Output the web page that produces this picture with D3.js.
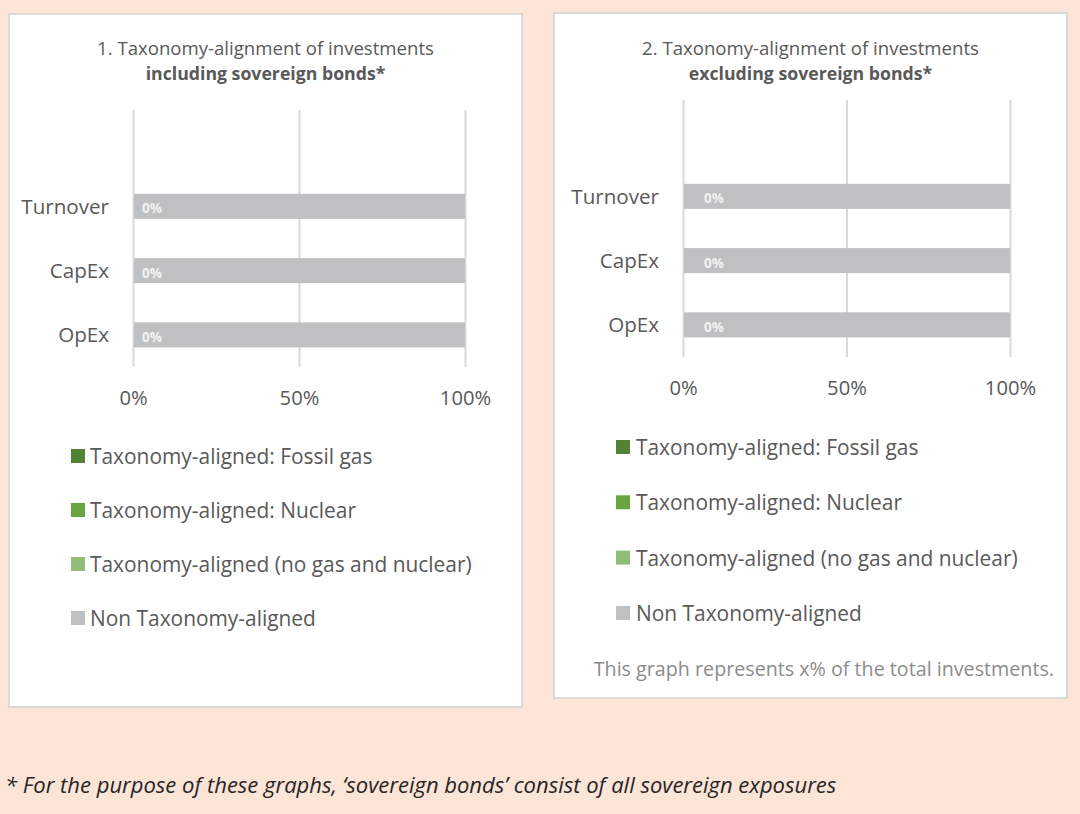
<!DOCTYPE html>
<html>
<head>
<meta charset="utf-8">
<script src="https://cdn.jsdelivr.net/npm/d3@7"></script>
<style>
  html, body { margin: 0; padding: 0; background: #FCE4D6; }
  svg { display: block; }
  text { font-family: "Open Sans", "Noto Sans", sans-serif; }
</style>
</head>
<body>
<svg id="chart" width="1080" height="814"></svg>
<script>
// ---------- data ----------
const categories = ["Turnover", "CapEx", "OpEx"];
const seriesNames = [
  "Taxonomy-aligned: Fossil gas",
  "Taxonomy-aligned: Nuclear",
  "Taxonomy-aligned (no gas and nuclear)",
  "Non Taxonomy-aligned"
];
const seriesColors = ["#548235", "#6AA442", "#8FBD78", "#BFC0C1"];
// chart 1: including sovereign bonds (values in %, per category)
const incFossilGas = [0, 0, 0];
const incNuclear   = [0, 0, 0];
const incAligned   = [0, 0, 0];
const incNonAligned = [100, 100, 100];
// chart 2: excluding sovereign bonds
const excFossilGas = [0, 0, 0];
const excNuclear   = [0, 0, 0];
const excAligned   = [0, 0, 0];
const excNonAligned = [100, 100, 100];
const tickValues = [0, 50, 100];
const tickLabels = ["0%", "50%", "100%"];
const titles1 = ["1. Taxonomy-alignment of investments", "including sovereign bonds*"];
const titles2 = ["2. Taxonomy-alignment of investments", "excluding sovereign bonds*"];
const noteText = "This graph represents x% of the total investments.";
const footnote = "* For the purpose of these graphs, \u2018sovereign bonds\u2019 consist of all sovereign exposures";

// ---------- layout ----------
const svg = d3.select("#chart");
const textColor = "#595959";

const charts = [
  {
    values: [incFossilGas, incNuclear, incAligned, incNonAligned],
    titles: titles1,
    panel: {x: 9, y: 14, w: 513, h: 693},
    plot: {x0: 133, x1: 465, y0: 110, y1: 367},
    titleCx: 265.5, titleY: [47, 73],
    tickY: 398,
    labelOffset: 9,
    legend: {sx: 71, tx: 90, y0: 456, step: 54},
    note: null
  },
  {
    values: [excFossilGas, excNuclear, excAligned, excNonAligned],
    titles: titles2,
    panel: {x: 554, y: 13, w: 513, h: 685},
    plot: {x0: 683, x1: 1010, y0: 100, y1: 357},
    titleCx: 810.5, titleY: [47, 73],
    tickY: 388,
    labelOffset: 21,
    legend: {sx: 616, tx: 636, y0: 447, step: 55.3},
    note: {x: 1054, y: 668}
  }
];

charts.forEach(c => {
  const g = svg.append("g");
  // panel
  g.append("rect")
    .attr("x", c.panel.x).attr("y", c.panel.y)
    .attr("width", c.panel.w).attr("height", c.panel.h)
    .attr("fill", "#ffffff").attr("stroke", "#D9D9D9").attr("stroke-width", 2);

  // titles
  g.append("text").attr("x", c.titleCx).attr("y", c.titleY[0])
    .attr("text-anchor", "middle").attr("dominant-baseline", "central")
    .attr("font-size", 18.6).attr("fill", textColor).text(c.titles[0]);
  g.append("text").attr("x", c.titleCx).attr("y", c.titleY[1])
    .attr("text-anchor", "middle").attr("dominant-baseline", "central")
    .attr("font-size", 17.7).attr("font-weight", "bold").attr("fill", textColor).text(c.titles[1]);

  // scales
  const x = d3.scaleLinear().domain([0, 100]).range([c.plot.x0, c.plot.x1]);
  const step = (c.plot.y1 - c.plot.y0) / (categories.length + 1);
  const y = d3.scaleBand().domain(categories)
    .range([c.plot.y0 + step, c.plot.y1])
    .paddingInner(0.61).paddingOuter(0.305);

  // gridlines via axis
  const grid = g.append("g").attr("transform", `translate(0,${c.plot.y1})`)
    .call(d3.axisBottom(x).tickValues(tickValues)
      .tickSize(-(c.plot.y1 - c.plot.y0)).tickFormat(""));
  grid.select(".domain").remove();
  grid.selectAll(".tick line").attr("stroke", "#D9D9D9").attr("stroke-width", 2);

  // tick labels via axis
  const ax = g.append("g").attr("transform", `translate(0,${c.tickY})`)
    .call(d3.axisBottom(x).tickValues(tickValues).tickSize(0)
      .tickFormat((d, i) => tickLabels[i]));
  ax.select(".domain").remove();
  ax.selectAll("text").attr("y", 0).attr("dy", "0.35em")
    .attr("font-family", "'Open Sans', sans-serif").attr("font-size", 20.2).attr("fill", textColor);

  // category labels via axis
  const ay = g.append("g").attr("transform", `translate(${c.plot.x0 - 24},0)`)
    .call(d3.axisLeft(y).tickSize(0));
  ay.select(".domain").remove();
  ay.selectAll("text").attr("x", 0).attr("dy", "0.35em")
    .attr("font-family", "'Open Sans', sans-serif").attr("font-size", 20.6).attr("fill", textColor);

  // stacked bars
  const rows = categories.map((cat, i) => {
    const r = {cat};
    seriesNames.forEach((s, k) => r[s] = c.values[k][i]);
    return r;
  });
  const stacked = d3.stack().keys(seriesNames)(rows);
  g.append("g").selectAll("g").data(stacked).join("g")
    .attr("fill", (d, k) => seriesColors[k])
    .selectAll("rect").data(d => d).join("rect")
    .attr("x", d => x(d[0]) + (d[0] === 0 ? 1 : 0))
    .attr("width", d => Math.max(0, x(d[1]) - x(d[0]) - (d[0] === 0 && d[1] > 0 ? 1 : 0)))
    .attr("y", d => y(d.data.cat))
    .attr("height", y.bandwidth());

  // data labels (taxonomy-aligned share)
  g.append("g").selectAll("text").data(rows).join("text")
    .attr("x", d => x(0) + c.labelOffset)
    .attr("y", d => y(d.cat) + y.bandwidth() / 2 + 2)
    .attr("dominant-baseline", "central")
    .attr("font-size", 13.5).attr("font-weight", "bold").attr("fill", "#F2F2F2")
    .text(d => (d[seriesNames[0]] + d[seriesNames[1]] + d[seriesNames[2]]) + "%");

  // legend
  const lg = g.append("g").selectAll("g").data(seriesNames).join("g")
    .attr("transform", (d, i) => `translate(0,${c.legend.y0 + i * c.legend.step})`);
  lg.append("rect").attr("x", c.legend.sx).attr("y", -7).attr("width", 14).attr("height", 14)
    .attr("fill", (d, i) => seriesColors[i]);
  lg.append("text").attr("x", c.legend.tx).attr("y", 0).attr("dominant-baseline", "central")
    .attr("font-size", 20.9).attr("fill", textColor).text(d => d);

  if (c.note) {
    g.append("text").attr("x", c.note.x).attr("y", c.note.y)
      .attr("text-anchor", "end").attr("dominant-baseline", "central")
      .attr("font-size", 19.7).attr("fill", "#8C8C8C").text(noteText);
  }
});

svg.append("text").attr("x", 5).attr("y", 784).attr("dominant-baseline", "central")
  .attr("font-size", 22).attr("font-style", "italic").attr("fill", "#262626").text(footnote);
</script>
</body>
</html>
